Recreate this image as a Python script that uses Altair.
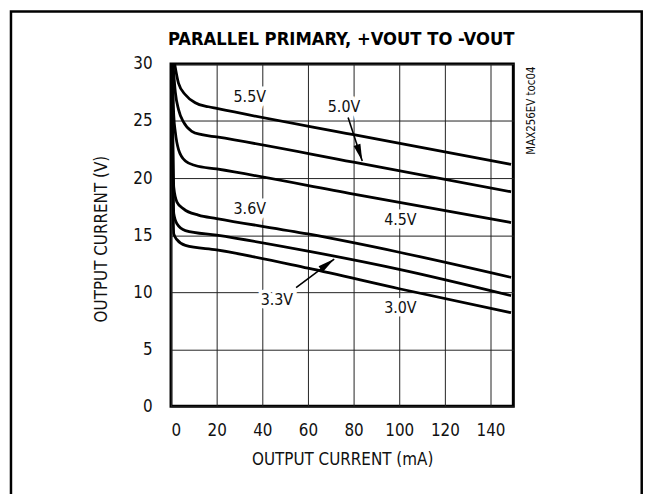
import math
import altair as alt
import pandas as pd

FONT = "Liberation Sans Narrow, DejaVu Sans Condensed, Liberation Sans, sans-serif"

# ---------------- data ----------------
series_names = ["5.5V", "5.0V", "4.5V", "3.6V", "3.3V", "3.0V"]
x_55 = [1.6, 3.3, 6.3, 10.6, 16.4, 20, 80, 149]
y_55 = [30, 28.3, 27.3, 26.6, 26.25, 26.1, 23.8, 21.2]
x_50 = [0.9, 1.9, 3.3, 5.5, 9.1, 13.5, 20, 80, 149]
y_50 = [30, 27.5, 26.0, 24.9, 24.1, 23.8, 23.6, 21.4, 18.8]
x_45 = [0.6, 1.2, 1.9, 3.3, 6.3, 10.6, 20, 80, 149]
y_45 = [30, 25.5, 24.0, 22.5, 21.5, 21.1, 20.8, 18.6, 16.1]
x_36 = [0.5, 1.2, 2.6, 5.5, 12, 20, 60, 100, 149]
y_36 = [30, 19.2, 17.9, 17.3, 16.75, 16.45, 15.1, 13.5, 11.3]
x_33 = [0.4, 1.2, 2.6, 6.3, 20, 60, 100, 149]
y_33 = [30, 16.9, 16.0, 15.4, 15.0, 13.6, 12.0, 9.7]
x_30 = [0.3, 1.2, 2.6, 6.3, 20, 60, 100, 149]
y_30 = [30, 15.1, 14.6, 14.1, 13.7, 12.1, 10.3, 8.2]

x_ticks = [0, 20, 40, 60, 80, 100, 120, 140]
y_ticks = [0, 5, 10, 15, 20, 25, 30]

label_text = ["5.5V", "5.0V", "3.6V", "4.5V", "3.3V", "3.0V"]
label_x = [34.5, 75.8, 34.5, 100.5, 46.4, 100.5]
label_y = [27.1, 26.2, 17.25, 16.3, 9.35, 8.6]

arrow_x0 = [77.6, 54.8]
arrow_y0 = [25.3, 10.4]
arrow_x1 = [83.8, 71.5]
arrow_y1 = [21.5, 12.9]

title_text = "PARALLEL PRIMARY, +VOUT TO -VOUT"
side_text = "MAX256EV toc04"

# ---------------- tables ----------------
xs = [x_55, x_50, x_45, x_36, x_33, x_30]
ys = [y_55, y_50, y_45, y_36, y_33, y_30]
rows = []
for name, xv, yv in zip(series_names, xs, ys):
    for i, (a, b) in enumerate(zip(xv, yv)):
        rows.append({"series": name, "order": i, "x": a, "y": b})
curves = pd.DataFrame(rows)

labels = pd.DataFrame({"text": label_text, "x": label_x, "y": label_y})

W, H = 345, 345
XMAX, YMAX = 150, 30
px_x = W / XMAX
px_y = H / YMAX
angles = []
for a0, b0, a1, b1 in zip(arrow_x0, arrow_y0, arrow_x1, arrow_y1):
    dx = (a1 - a0) * px_x
    dy = -(b1 - b0) * px_y
    angles.append((math.degrees(math.atan2(dx, -dy)) + 360) % 360)
arrows = pd.DataFrame({"x": arrow_x0, "y": arrow_y0, "x2": arrow_x1, "y2": arrow_y1,
                       "angle": angles})
heads = pd.DataFrame({"x": arrow_x1, "y": arrow_y1, "angle": angles})

X = alt.X("x:Q", scale=alt.Scale(domain=[0, XMAX], nice=False, zero=False),
          axis=alt.Axis(values=x_ticks, title="OUTPUT CURRENT  (mA)",
                        labelPadding=16, titleX=172.5, titleY=54,
                        titleBaseline="middle", titleAlign="center"))
Y = alt.Y("y:Q", scale=alt.Scale(domain=[0, YMAX], nice=False, zero=False),
          axis=alt.Axis(values=y_ticks, title="OUTPUT CURRENT (V)",
                        labelPadding=19, titleX=-70, titleY=176,
                        titleAngle=270, titleBaseline="middle", titleAlign="center"))

lines = alt.Chart(curves).mark_line(
    color="black", strokeWidth=2.8, clip=True, interpolate="monotone"
).encode(x=X, y=Y, detail="series:N", order="order:Q")

halo = alt.Chart(labels).mark_text(
    font=FONT, fontSize=16, stroke="white", strokeWidth=7, fill="white",
    align="center", baseline="middle"
).encode(x=X, y=Y, text="text:N")

texts = alt.Chart(labels).mark_text(
    font=FONT, fontSize=16, color="#111", align="center", baseline="middle"
).encode(x=X, y=Y, text="text:N")

rules = alt.Chart(arrows).mark_rule(color="black", strokeWidth=1.6).encode(
    x=X, y=Y, x2="x2:Q", y2="y2:Q")

head_layer = alt.Chart(heads).mark_point(
    shape="M0,0L0.42,2L-0.42,2Z", filled=True, color="black", opacity=1, size=290
).encode(x=X, y=Y, angle=alt.Angle("angle:Q", scale=None))

one = pd.DataFrame({"a": [0]})
side = alt.Chart(one).mark_text(
    font=FONT, fontSize=11.5, color="#111", angle=270, align="right", baseline="middle"
).encode(x=alt.value(364), y=alt.value(2.5), text=alt.value(side_text))

title = alt.Chart(one).mark_text(
    font=FONT, fontSize=18.4, fontWeight="bold", color="black",
    align="center", baseline="alphabetic"
).encode(x=alt.value(171.5), y=alt.value(-19.5), text=alt.value(title_text))

frame = alt.Chart(one).mark_rect(
    fill="white", fillOpacity=0, stroke="black", strokeWidth=2.5
).encode(x=alt.value(-161.3), x2=alt.value(474.4), y=alt.value(-52.8), y2=alt.value(440))

chart = alt.layer(frame, lines, halo, texts, rules, head_layer, side, title).properties(
    width=W, height=H,
    autosize=alt.AutoSizeParams(type="none"),
    padding={"left": 164.3, "top": 54.5, "right": 131.7, "bottom": 86},
    background="white",
).configure_view(
    stroke="black", strokeWidth=3
).configure_axis(
    grid=True, gridColor="#222", gridWidth=1, domain=False, ticks=False, tickSize=0,
    labelFont=FONT, labelFontSize=17, labelColor="#111",
    titleFont=FONT, titleFontSize=17, titleFontWeight="normal", titleColor="#111",
)

chart.save("out.html", embed_options={"renderer": "svg", "actions": False})
